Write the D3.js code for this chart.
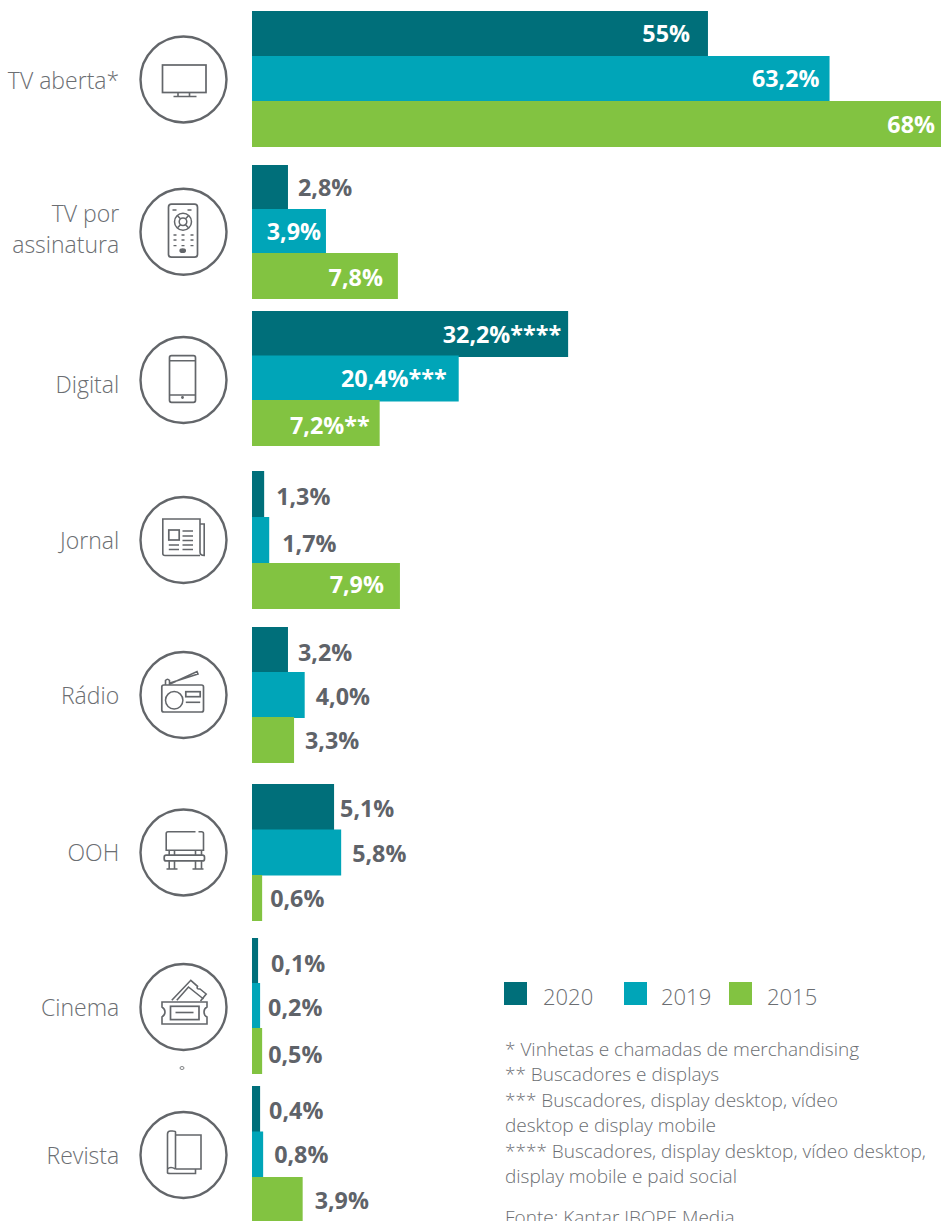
<!DOCTYPE html>
<html lang="pt-BR">
<head>
<meta charset="utf-8">
<title>Investimento publicitário por meio</title>
<script src="https://cdnjs.cloudflare.com/ajax/libs/d3/7.8.5/d3.min.js"></script>
<style>
html,body{margin:0;padding:0;background:#fff;overflow:hidden}
svg{display:block}
text{font-family:"Open Sans",sans-serif}
</style>
</head>
<body>
<div id="chart"></div>
<script>
// ---------- data ----------
const categories = ["TV aberta*", "TV por assinatura", "Digital", "Jornal", "Rádio", "OOH", "Cinema", "Revista"];
const seriesNames = ["2020", "2019", "2015"];
const seriesColors = ["#006f7a", "#00a5b8", "#82c341"];

// Printed labels
const labels2020 = ["55%", "2,8%", "32,2%****", "1,3%", "3,2%", "5,1%", "0,1%", "0,4%"];
const labels2019 = ["63,2%", "3,9%", "20,4%***", "1,7%", "4,0%", "5,8%", "0,2%", "0,8%"];
const labels2015 = ["68%", "7,8%", "7,2%**", "7,9%", "3,3%", "0,6%", "0,5%", "3,9%"];

// Bar lengths as drawn in the source graphic (which is not proportional to its printed labels)
const drawn2020 = [45.0, 3.55, 31.2, 1.2, 3.55, 8.1, 0.6, 0.8];
const drawn2019 = [57.0, 7.3, 20.4, 1.7, 5.2, 8.8, 0.8, 1.1];
const drawn2015 = [68.0, 14.4, 12.6, 14.6, 4.15, 1.0, 1.0, 5.0];

const footnotes = [
  "* Vinhetas e chamadas de merchandising",
  "** Buscadores e displays",
  "*** Buscadores, display desktop, vídeo",
  "desktop e display mobile",
  "**** Buscadores, display desktop, vídeo desktop,",
  "display mobile e paid social"
];
const sourceNote = "Fonte: Kantar IBOPE Media";

// ---------- layout ----------
const W = 941, H = 1221, barH = 46;
const groupTops = [11, 165, 311, 471, 627, 784, 938, 1086];
const groupBottoms = [147, 299, 446, 609, 763, 921, 1074, 1223];
const iconCentres = [79.5, 231.7, 380, 540, 695, 852.5, 1007, 1155];
const catBaselines = [[89], [222, 253], [393], [549], [704], [861], [1016], [1164]];
// label offsets from bar end: positive = outside (start-anchored), negative = inside (end-anchored)
const labelDx = [
  [-18, 10, -7, 12, 10, 6, 13, 9],
  [-10, -5, -12, 13, 11, 11, 8, 11],
  [-6, -15, -10, -16, 11, 8, 6, 12]
];
const labelDy = [
  [7.5, 7.5, 8.5, 10.5, 10.5, 9.500, 10.5, 9.5],
  [7.5, 7.5, 8, 11.5, 9.5, 9, 9.5, 8],
  [8.5, 9.5, 10.5, 6.5, 8.5, 8.5, 11.5, 8.5]
];
const gray = "#63666a";
const lightGray = "#6b6e72";

const svg = d3.select("#chart").append("svg").attr("width", W).attr("height", H).attr("viewBox", `0 0 ${W} ${H}`);

const x = d3.scaleLinear().domain([0, 68]).range([252, 941]);
const topOf = d3.scaleOrdinal(categories, groupTops);
const bottomOf = d3.scaleOrdinal(categories, groupBottoms);
const color = d3.scaleOrdinal(seriesNames, seriesColors);
const iconY = d3.scaleOrdinal(categories, iconCentres);

const drawn = [drawn2020, drawn2019, drawn2015];
const printed = [labels2020, labels2019, labels2015];
const rows = seriesNames.flatMap((s, si) => categories.map((c, ci) => ({
  cat: c, series: s, si, ci, value: drawn[si][ci], label: printed[si][ci],
  y: d3.scalePoint(seriesNames, [topOf(c), bottomOf(c) - barH])(s)
})));

// bars
svg.append("g").selectAll("rect").data(rows).join("rect")
  .attr("x", x(0))
  .attr("y", d => d.y)
  .attr("width", d => x(d.value) - x(0))
  .attr("height", barH)
  .attr("fill", d => color(d.series));

// value labels
svg.append("g").selectAll("text").data(rows).join("text")
  .attr("x", d => x(d.value) + labelDx[d.si][d.ci])
  .attr("y", d => d.y + barH / 2 + labelDy[d.si][d.ci])
  .attr("text-anchor", d => labelDx[d.si][d.ci] < 0 ? "end" : "start")
  .attr("fill", d => labelDx[d.si][d.ci] < 0 ? "#fff" : "#5f6369")
  .attr("font-size", 23.3)
  .attr("font-weight", 700)
  .text(d => d.label);

// category labels
const catLines = ["TV aberta*", "TV por|assinatura", "Digital", "Jornal", "Rádio", "OOH", "Cinema", "Revista"];
svg.append("g").selectAll("text").data(categories.flatMap((c, i) =>
    catLines[i].split("|").map((t, j) => ({t, y: catBaselines[i][j]}))))
  .join("text")
  .attr("x", 119.2).attr("y", d => d.y)
  .attr("text-anchor", "end")
  .attr("fill", lightGray)
  .attr("font-size", 23)
  .attr("font-weight", 300)
  .text(d => d.t);

// icons
const iconDraw = [
  g => { // TV
    g.r(-21, -14.5, 43.5, 27.5);
    g.p("M-10 17H13M-5.5 13V17M6 13V17");
  },
  g => { // remote
    g.r(-15, -27.5, 29, 53, 3);
    g.p("M-11 -21.7H-7M4 -21.7H8");
    g.e(-0.5, -10, 8.5, 8.5); g.e(-0.5, -10, 3.8, 3.8);
    g.p("M-6 -16L-3 -13M5 -16L2 -13M-6 -4L-3 -7M5 -4L2 -7");
    [3.3, 8.3, 14].forEach(y => g.p(`M-10 ${y}H-7M-2 ${y}H1M7 ${y}H10`, 1.3));
    g.e(-0.8, 19, 2.6, 1.6, "#63666a");
  },
  g => { // phone
    g.r(-14, -24.3, 26, 46.6, 2);
    g.p("M-14 -19.3H12M-14 15H12");
    g.e(-1, 17.5, 0.7, 0.7, "#63666a");
  },
  g => { // newspaper
    g.p("M16.5 15.5H-18.5Q-20.7 15.5 -20.7 13.5V-21H16.5V12Q16.5 15.5 20.7 15.5V-16H17");
    g.r(-14.7, -10, 10.4, 10);
    g.p("M-1 -9H9.5M-1 -4H9.5M-1 0.5H9.5M-1 5H9.5M-1 9.5H9.5M-14.7 5H-4.5M-14.7 9.5H-4.5");
  },
  g => { // radio
    g.r(-21.7, -10, 41.7, 27, 2);
    g.e(-9.3, 5.3, 8.7, 8.7);
    g.r(2.3, -3.3, 14.4, 5);
    g.p("M2.3 7.3H16.7");
    g.p("M-13.5 -11L13.5 -23.5L14.5 -21L-13.5 -12M-18 -10V-14.5Q-16 -17 -14 -14.5V-10");
  },
  g => { // bench
    g.p("M12 -20.7H-15.5Q-17.3 -20.7 -17.3 -19V-2.3H20V-19Q20 -20.7 18 -20.7H15");
    g.r(-19.3, 2.7, 40.3, 5.7, 2);
    g.p("M-14.3 -2.3V2.7M-9 -2.3V2.7M12 -2.3V2.7M18 -2.3V2.7");
    g.p("M-14.3 8.4V16M-9 8.4V16M12 8.4V16M18 8.4V16M-17 16.5H-6M9 16.5H20");
  },
  g => { // tickets
    g.p("M-21.5 -5H23.5V0Q20.5 1.5 20.5 5T23.5 10V17H-21.5V10Q-18.5 8 -18.5 5T-21.5 0Z");
    g.r(-13, -0.7, 28.5, 13.3);
    g.p("M-8 5.5H10");
    g.p("M-11.7 -6.7L7.3 -26.700L14 -20.7Q12.5 -17.5 16.5 -18L22.7 -13L17 -6");
    g.p("M-6.700 -6.700L5 -20L20 -8");
  },
  g => { // magazine
    g.p("M-8 -20H17.5V14H-8");
    g.p("M-8 14V-23Q-8 -24 -11 -24H-13Q-16 -24 -16 -21V18Q-16 18.500 -13 18.500H-8H12V14");
    g.p("M-16 14Q-13 11 -8 14");
  }
];

const iconG = svg.append("g");
categories.forEach((c, i) => {
  const node = iconG.append("g").attr("transform", `translate(183.5,${iconY(c)})`)
    .attr("fill", "none").attr("stroke", gray);
  node.append("circle").attr("r", 43).attr("stroke-width", 2.4);
  const api = {
    r: (x, y, w, h, rx = 0) => node.append("rect").attr("x", x).attr("y", y).attr("width", w).attr("height", h).attr("rx", rx).attr("stroke-width", 1.7),
    e: (cx, cy, rx, ry, fill) => node.append("ellipse").attr("cx", cx).attr("cy", cy).attr("rx", rx).attr("ry", ry).attr("stroke-width", 1.5).attr("fill", fill || "none"),
    p: (d, sw = 1.6) => node.append("path").attr("d", d).attr("stroke-width", sw)
  };
  iconDraw[i](api);
});
// stray mark below the cinema icon
svg.append("ellipse").attr("cx", 182).attr("cy", 1068).attr("rx", 2).attr("ry", 1.5)
  .attr("fill", "none").attr("stroke", gray).attr("stroke-width", 0.8);

// legend
const legendX = d3.scaleOrdinal(seriesNames, [504, 624, 729]);
const legendTextX = d3.scaleOrdinal(seriesNames, [543, 661, 767]);
const legend = svg.append("g").selectAll("g").data(seriesNames).join("g");
legend.append("rect").attr("x", d => legendX(d)).attr("y", 982).attr("width", 23).attr("height", 23).attr("fill", d => color(d));
legend.append("text").attr("x", d => legendTextX(d)).attr("y", 1005)
  .attr("font-size", 22).attr("font-weight", 300).attr("fill", lightGray).text(d => d);

// footnotes
const noteY = d3.scalePoint(footnotes, [1056, 1183]);
svg.append("g").selectAll("text").data(footnotes).join("text")
  .attr("x", 505).attr("y", d => noteY(d))
  .attr("font-size", 19).attr("font-weight", 300).attr("fill", lightGray).text(d => d);
svg.append("text").attr("x", 505).attr("y", 1224)
  .attr("font-size", 19).attr("font-weight", 300).attr("fill", lightGray).text(sourceNote);
</script>
</body>
</html>
